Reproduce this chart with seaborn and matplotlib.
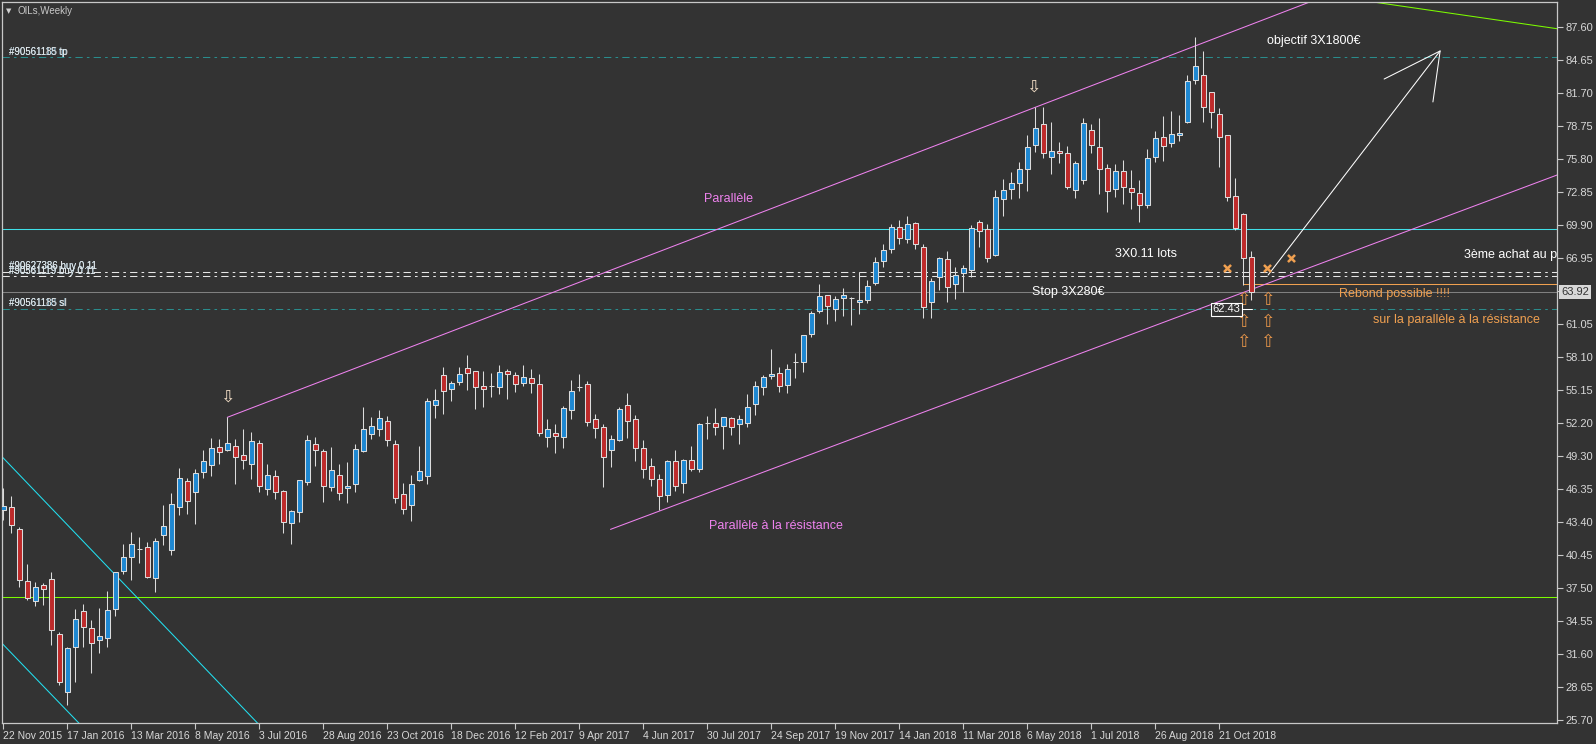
import matplotlib
matplotlib.use("Agg")
import matplotlib.pyplot as plt
import matplotlib.transforms as mtransforms
import numpy as np
import seaborn as sns

# ---------------- data ----------------
opens = [44.44, 44.74, 42.71, 38.12, 36.30, 37.70, 38.24, 33.32, 28.13, 32.22,
         35.38, 33.86, 32.78, 32.96, 35.56, 39.01, 40.27, 40.95, 41.10, 38.33,
         42.18, 40.86, 44.68, 47.00, 46.02, 47.81, 48.44, 50.05, 49.78, 50.13,
         49.33, 48.53, 50.41, 46.35, 47.45, 46.11, 43.25, 44.29, 46.97, 50.31,
         49.69, 46.47, 47.54, 46.38, 46.74, 49.69, 51.27, 51.66, 52.37, 50.31,
         45.84, 44.86, 47.12, 47.51, 53.86, 56.49, 55.29, 55.86, 57.11, 56.84,
         55.50, 55.50, 55.41, 56.84, 56.49, 55.77, 56.22, 55.68, 50.94, 51.30,
         50.94, 53.36, 55.47, 55.68, 52.55, 51.84, 49.78, 50.67, 53.86, 52.55,
         49.96, 48.35, 47.18, 45.81, 48.80, 46.89, 48.89, 48.14, 52.25, 52.25,
         51.99, 52.64, 52.16, 52.25, 53.89, 55.41, 56.40, 56.67, 55.59, 57.65,
         57.65, 60.16, 62.21, 63.67, 62.39, 63.37, 63.43, 63.05, 63.20, 64.72,
         66.68, 67.76, 69.76, 68.65, 70.08, 67.94, 63.08, 65.25, 66.86, 64.63,
         65.61, 65.88, 70.17, 69.55, 67.22, 72.23, 73.18, 73.66, 74.91, 77.06,
         78.97, 76.05, 76.52, 76.34, 73.06, 73.96, 78.43, 76.94, 75.00, 73.12,
         74.79, 73.21, 72.77, 71.72, 75.99, 77.78, 77.24, 77.95, 79.18, 82.90,
         83.35, 81.80, 79.83, 77.95, 72.53, 70.89, 67.10]
highs = [46.38, 45.69, 42.89, 39.61, 38.00, 37.88, 38.90, 33.56, 32.22, 35.56,
         36.03, 34.60, 35.67, 37.20, 38.90, 41.40, 42.44, 41.99, 41.55, 41.91,
         44.89, 45.93, 48.17, 47.33, 48.08, 49.81, 50.85, 50.79, 52.73, 50.79,
         51.69, 51.42, 50.70, 48.56, 48.02, 46.23, 44.44, 47.09, 51.15, 50.94,
         49.90, 50.08, 48.53, 48.74, 50.32, 53.63, 52.73, 53.39, 52.85, 50.70,
         46.83, 47.54, 50.17, 54.43, 55.23, 57.23, 55.95, 57.23, 58.31, 56.90,
         56.84, 56.67, 57.41, 57.05, 56.76, 57.41, 57.05, 56.58, 52.58, 52.10,
         53.71, 56.04, 56.61, 55.95, 53.03, 52.10, 51.12, 53.63, 54.88, 52.94,
         50.70, 49.09, 47.63, 48.92, 49.81, 48.97, 50.17, 52.19, 52.85, 53.57,
         52.79, 52.76, 52.94, 54.82, 55.98, 56.49, 58.84, 57.20, 57.47, 58.45,
         60.07, 62.27, 64.66, 63.70, 63.58, 64.30, 63.52, 65.76, 65.02, 67.04,
         68.23, 70.02, 70.38, 70.74, 70.23, 68.23, 65.22, 67.10, 67.61, 66.15,
         66.36, 69.93, 70.38, 69.99, 73.07, 74.05, 74.68, 75.57, 77.95, 80.46,
         80.46, 79.15, 77.39, 77.03, 75.69, 79.47, 78.97, 79.47, 75.36, 75.36,
         75.75, 74.85, 73.96, 76.73, 78.37, 79.68, 80.13, 79.77, 83.35, 86.78,
         85.50, 81.86, 80.37, 77.98, 74.11, 70.98, 67.61]
lows = [43.55, 42.35, 37.58, 36.39, 35.88, 35.94, 32.37, 28.79, 27.00, 29.09,
        32.16, 29.83, 31.68, 32.22, 34.96, 38.72, 38.18, 39.73, 38.36, 37.14,
        41.31, 40.42, 43.99, 44.08, 43.19, 47.27, 47.48, 48.56, 49.75, 46.77,
        48.08, 47.21, 46.05, 45.81, 45.45, 42.38, 41.43, 43.40, 46.71, 48.41,
        45.19, 46.17, 45.37, 45.04, 46.05, 49.60, 50.82, 51.06, 50.17, 45.04,
        44.11, 43.49, 47.00, 46.77, 52.67, 53.03, 54.22, 55.65, 55.17, 53.48,
        53.68, 54.58, 54.82, 54.37, 55.03, 55.53, 54.94, 51.06, 50.11, 49.57,
        50.02, 52.61, 55.12, 51.99, 50.91, 46.53, 48.32, 50.64, 50.91, 48.83,
        47.33, 46.62, 44.44, 45.19, 46.17, 45.99, 47.96, 47.87, 50.79, 51.15,
        49.93, 51.18, 50.37, 51.90, 52.97, 54.76, 56.13, 55.03, 54.94, 56.28,
        56.82, 59.89, 62.03, 61.05, 61.38, 61.83, 60.99, 61.97, 62.93, 64.57,
        66.21, 67.40, 68.20, 68.35, 67.76, 61.59, 61.59, 64.12, 63.08, 63.32,
        63.97, 65.31, 67.94, 66.65, 67.16, 70.77, 72.26, 72.32, 73.01, 76.49,
        75.96, 74.47, 75.45, 73.12, 72.32, 73.60, 76.34, 72.68, 71.13, 72.47,
        71.81, 71.34, 70.23, 71.43, 75.60, 75.66, 76.88, 77.45, 79.09, 82.52,
        79.18, 78.58, 75.15, 72.11, 69.49, 64.57, 63.23]
closes = [44.80, 43.10, 38.18, 36.54, 37.58, 37.34, 33.71, 29.03, 32.07, 34.66,
          34.01, 32.57, 33.14, 35.50, 38.87, 40.27, 41.37, 40.95, 38.48, 41.64,
          42.98, 44.95, 47.27, 45.22, 47.72, 48.79, 49.96, 49.66, 50.41, 49.21,
          48.94, 50.58, 46.56, 47.54, 46.02, 43.34, 44.32, 47.09, 50.67, 49.78,
          46.56, 47.99, 45.93, 46.56, 49.90, 51.66, 51.93, 52.64, 50.67, 45.48,
          44.50, 46.74, 47.96, 54.16, 54.25, 55.12, 55.77, 56.57, 56.73, 55.47,
          55.29, 55.50, 56.76, 56.58, 55.68, 56.31, 55.77, 51.30, 51.66, 51.03,
          53.53, 55.06, 55.47, 52.28, 51.75, 49.15, 50.76, 53.50, 52.37, 49.96,
          48.14, 47.24, 45.72, 48.83, 46.62, 48.92, 48.14, 52.13, 52.25, 51.90,
          52.76, 51.84, 52.61, 53.65, 55.50, 56.31, 56.58, 55.50, 57.02, 57.65,
          60.07, 62.03, 63.58, 62.66, 63.29, 63.67, 63.43, 63.23, 64.45, 66.62,
          67.67, 69.76, 68.74, 69.99, 68.26, 62.63, 64.90, 66.95, 64.42, 65.43,
          66.06, 69.64, 69.37, 66.95, 72.41, 73.04, 73.66, 74.91, 76.94, 78.58,
          76.37, 76.52, 76.34, 73.30, 75.45, 79.03, 77.06, 74.91, 72.95, 74.79,
          73.30, 72.86, 71.72, 75.90, 77.69, 77.00, 78.04, 78.13, 82.84, 84.16,
          80.52, 80.01, 77.78, 72.47, 69.64, 66.95, 63.92]

date_labels = ["22 Nov 2015", "17 Jan 2016", "13 Mar 2016", "8 May 2016", "3 Jul 2016",
               "28 Aug 2016", "23 Oct 2016", "18 Dec 2016", "12 Feb 2017", "9 Apr 2017",
               "4 Jun 2017", "30 Jul 2017", "24 Sep 2017", "19 Nov 2017", "14 Jan 2018",
               "11 Mar 2018", "6 May 2018", "1 Jul 2018", "26 Aug 2018", "21 Oct 2018"]
price_ticks = [87.60, 84.65, 81.70, 78.75, 75.80, 72.85, 69.90, 66.95, 64.00, 61.05,
               58.10, 55.15, 52.20, 49.30, 46.35, 43.40, 40.45, 37.50, 34.55, 31.60,
               28.65, 25.70]

tp_level = 84.93
sl_level = 62.40
buy_levels = [65.73, 65.39]
cyan_level = 69.55
green_level = 36.70
orange_level = 64.66
last_price = 63.92
marker_price = 62.43

# ---------------- style ----------------
BG = "#333333"
sns.set_theme(style="dark", rc={"axes.facecolor": BG, "figure.facecolor": BG,
                                "axes.edgecolor": "#C8C8C8", "grid.color": BG})
plt.rcParams["font.family"] = ["Liberation Sans", "DejaVu Sans"]

fig = plt.figure(figsize=(15.96, 7.44), dpi=100, facecolor=BG)
ax = fig.add_axes([2 / 1596, 21 / 744, 1555 / 1596, 721 / 744])
ax.set_facecolor(BG)
ax.grid(False)

n = len(opens)
idx = np.arange(n)
o = np.array(opens); c = np.array(closes); h = np.array(highs); l = np.array(lows)

EDGE = "#DCDCDC"
LW = 0.75

# horizontal levels
ax.axhline(green_level, color="#7CFC00", lw=LW, zorder=1)
ax.axhline(cyan_level, color="#3FE0E8", lw=LW, zorder=1)
ax.axhline(last_price, color="#808080", lw=LW, zorder=1)
dd = (0, (7, 4, 2.5, 4))
ax.axhline(tp_level, color="#2A8C8C", lw=LW, ls=dd, zorder=1)
ax.axhline(sl_level, color="#2A8C8C", lw=LW, ls=dd, zorder=1)
for b in buy_levels:
    ax.axhline(b, color="#E6E6E6", lw=LW, ls=dd, zorder=1)
ax.plot([155, 200], [orange_level, orange_level], color="#F0A050", lw=LW, zorder=1)

# trend lines
sns.lineplot(x=[28, 170], y=[52.73, 91.72], ax=ax, color="#EE82EE", lw=LW, zorder=1)
sns.lineplot(x=[75.9, 194.2], y=[42.71, 74.40], ax=ax, color="#EE82EE", lw=LW, zorder=1)
sns.lineplot(x=[160, 195], y=[91.05, 87.41], ax=ax, color="#7CFC00", lw=LW, zorder=1)
sns.lineplot(x=[-2, 33], y=[50.58, 24.47], ax=ax, color="#22E0F0", lw=LW, zorder=1)
sns.lineplot(x=[-2, 11], y=[33.88, 24.23], ax=ax, color="#22E0F0", lw=LW, zorder=1)

# white target arrow
ax.plot([158.1, 179.6], [65.46, 85.50], color="white", lw=LW, zorder=4)
ax.plot([172.6, 179.6, 178.7], [82.99, 85.50, 80.94], color="white", lw=LW, zorder=4)

# candles
ax.vlines(idx, l, h, color=EDGE, lw=LW, zorder=2)
bull = c >= o
body_bottom = np.minimum(o, c)
body_h = np.abs(c - o)
colors = np.where(bull, "#1E88D2", "#BE2A2A")
ax.bar(idx, body_h, bottom=body_bottom, width=0.62, color=colors,
       edgecolor=EDGE, linewidth=LW, zorder=3)

# markers
sns.scatterplot(x=[152.9, 157.9, 160.9], y=[66.11, 66.11, 66.95], ax=ax, marker="x",
                color="#F0A050", s=26, linewidth=1.8, zorder=5)
for xi in [155, 158]:
    for yv in [63.23, 61.26, 59.47]:
        ax.text(xi, yv, "\u21e7", color="#E8964A", fontsize=12.5, ha="center", va="center",
                family=["DejaVu Sans"], zorder=5)
for xi, yv in [(28, 54.55), (128.7, 82.28)]:
    ax.text(xi, yv, "\u21e9", color="#F5E0C8", fontsize=12.5, ha="center", va="center",
            family=["DejaVu Sans"], zorder=5)

# text annotations
ax.text(157.96, 86.42, "objectif 3X1800€", color="white", fontsize=9, va="center")
ax.text(138.96, 67.31, "3X0.11 lots", color="white", fontsize=9, va="center")
ax.text(182.6, 67.25, "3ème achat au prix", color="white", fontsize=9, va="center", clip_on=True)
ax.text(128.55, 63.97, "Stop 3X280€", color="white", fontsize=9, va="center")
ax.text(167.0, 63.80, "Rebond possible !!!!", color="#F0A050", fontsize=9, va="center")
ax.text(171.25, 61.44, "sur la parallèle à la résistance", color="#F0A050", fontsize=9, va="center")
ax.text(87.6, 72.30, "Parallèle", color="#EE82EE", fontsize=9, va="center")
ax.text(88.2, 43.01, "Parallèle à la résistance", color="#EE82EE", fontsize=9, va="center")

ax.text(152.9, 62.39, f"{marker_price:.2f}", color="white", fontsize=8, ha="center", va="center",
        bbox=dict(facecolor=BG, edgecolor="white", lw=0.8, pad=1.2), zorder=6)
ax.plot([154.8, 156.1], [62.40, 62.40], color="white", lw=LW, zorder=6)

# order labels (overlapping like the terminal)
for (txt1, txt2, yv) in [("#90561118 tp", "#90561185 tp", 85.44),
                         ("#90561119 buy 0.11", "#90561119 buy 0.11", 65.85),
                         ("#90627386 buy 0.11", "#90627386 buy 0.11", 66.29),
                         ("#90561118 sl", "#90561185 sl", 62.93)]:
    ax.text(0.71, yv, txt1, color="#9ECFE8", fontsize=7, va="center", zorder=6)
    ax.text(0.76, yv, txt2, color="#E8E8E8", fontsize=7, va="center", zorder=6)

# axes limits / ticks
ax.set_xlim(-0.1625, 194.21)
ax.set_ylim(25.39, 89.88)
ax.yaxis.tick_right()
ax.set_yticks(price_ticks)
# the 64.00 label is hidden under the current-price tag in the terminal
ax.set_yticklabels(["" if abs(p - 64.00) < 1e-6 else f"{p:.2f}" for p in price_ticks])
ax.set_xticks(np.arange(0, 8 * len(date_labels), 8))
ax.set_xticklabels(date_labels, ha="left")
ax.tick_params(axis="both", direction="out", length=4, width=0.8, color="#C8C8C8",
               labelcolor="#D8D8D8", labelsize=7.5, pad=2,
               bottom=True, right=True, left=False)
ax.tick_params(axis="y", labelsize=8)
for s in ax.spines.values():
    s.set_color("#C8C8C8")
    s.set_linewidth(0.9)
ax.set_xlabel(""); ax.set_ylabel("")

# current price tag on the axis
trans = mtransforms.blended_transform_factory(ax.transAxes, ax.transData)
ax.text(1.0 + 4 / 1555, last_price, f"{last_price:.2f}", transform=trans, color="#333333",
        fontsize=8, ha="left", va="center", clip_on=False,
        bbox=dict(facecolor="#D8D8D8", edgecolor="none", pad=1.5), zorder=7)

# title
fig.text(9 / 1596, 1 - 10.7 / 744, "\u25bc", color="#D0D0D0", fontsize=5, ha="center", va="center",
         family=["DejaVu Sans"])
fig.text(18 / 1596, 1 - 10.7 / 744, "OILs,Weekly", color="#C8C8C8", fontsize=7, ha="left", va="center")

fig.savefig("out.png", dpi=100, facecolor=BG)
